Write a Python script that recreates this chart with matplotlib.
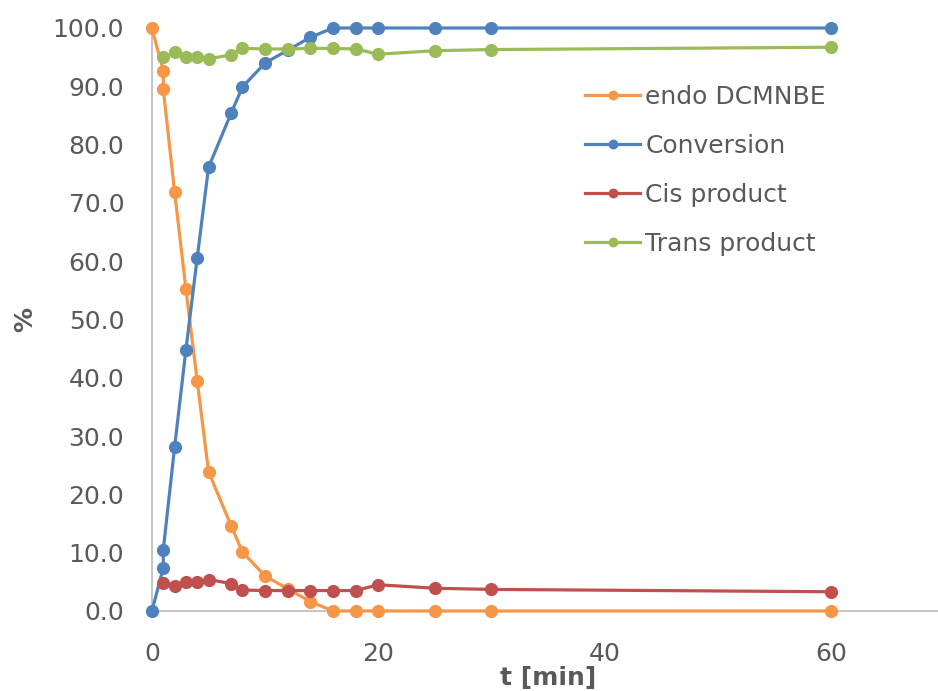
import matplotlib
matplotlib.use("Agg")
import matplotlib.pyplot as plt

# Sampling times (min); t = 1 was sampled twice
t_main = [0, 1, 1, 2, 3, 4, 5, 7, 8, 10, 12, 14, 16, 18, 20, 25, 30, 60]
endo = [100.0, 92.6, 89.5, 71.9, 55.2, 39.4, 23.9, 14.6, 10.1, 6.0, 3.8, 1.6,
        0.0, 0.0, 0.0, 0.0, 0.0, 0.0]
conversion = [0.0, 7.4, 10.5, 28.1, 44.8, 60.6, 76.1, 85.4, 89.9, 94.0, 96.2, 98.4,
              100.0, 100.0, 100.0, 100.0, 100.0, 100.0]

t_sel = [1, 2, 3, 4, 5, 7, 8, 10, 12, 14, 16, 18, 20, 25, 30, 60]
cis = [4.8, 4.2, 5.0, 5.0, 5.4, 4.7, 3.6, 3.5, 3.5, 3.5, 3.5, 3.5, 4.5, 3.9, 3.7, 3.3]
trans = [95.0, 95.8, 95.1, 95.1, 94.7, 95.4, 96.5, 96.4, 96.4, 96.5, 96.5, 96.4,
         95.5, 96.1, 96.3, 96.7]

y_ticks = [0, 10, 20, 30, 40, 50, 60, 70, 80, 90, 100]
x_ticks = [0, 20, 40, 60]

series = [
    ("endo DCMNBE", t_main, endo, "#F79646"),
    ("Conversion", t_main, conversion, "#4F81BD"),
    ("Cis product", t_sel, cis, "#C0504D"),
    ("Trans product", t_sel, trans, "#9BBB59"),
]

text_color = "#595959"
plt.rcParams["font.family"] = ["DejaVu Sans"]

fig = plt.figure(figsize=(9.38, 6.91), dpi=100)
ax = fig.add_axes([0.162, 0.1158, 0.8446, 0.8437])

for label, xs, ys, color in series:
    ax.plot(xs, ys, color=color, lw=2.3, marker="o", markersize=9.5,
            markeredgewidth=0, label=label, clip_on=False, zorder=3)

ax.set_xlim(0, 70)
ax.set_ylim(0, 100)
ax.set_xticks(x_ticks)
ax.set_yticks(y_ticks)
ax.set_yticklabels([f"{v:.1f}" for v in y_ticks])
ax.tick_params(length=0, labelsize=18, colors=text_color, pad=20)
ax.tick_params(axis="x", pad=22)

for side in ("top", "right"):
    ax.spines[side].set_visible(False)
for side in ("left", "bottom"):
    ax.spines[side].set_color("#BFBFBF")
    ax.spines[side].set_linewidth(1.3)

ax.set_xlabel("t [min]", fontsize=18, fontweight="bold", color=text_color, labelpad=0)
ax.set_ylabel("%", fontsize=18, fontweight="bold", color=text_color, labelpad=11)

leg = ax.legend(loc="upper left", bbox_to_anchor=(0.600, 0.91),
                bbox_transform=fig.transFigure, frameon=False, fontsize=18,
                handlelength=2.2, handletextpad=0.2, labelspacing=1.0,
                markerscale=0.75)
for txt in leg.get_texts():
    txt.set_color(text_color)

fig.savefig("out.png", dpi=100)
